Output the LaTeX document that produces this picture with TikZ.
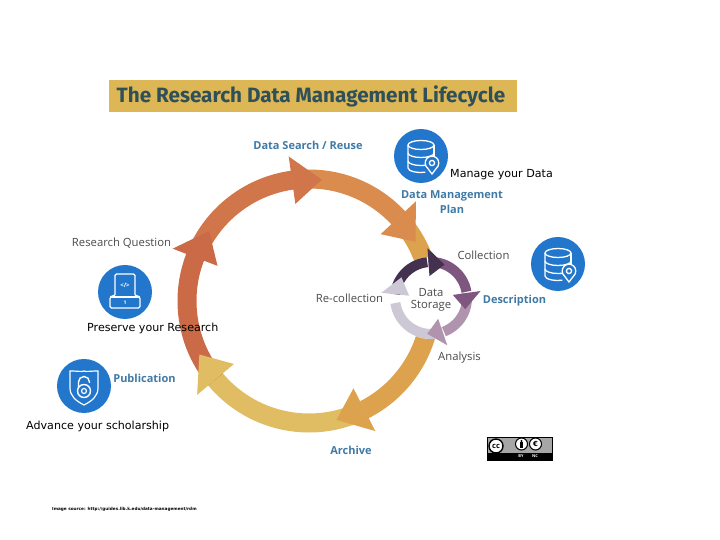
\documentclass[tikz,border=0pt]{standalone}
\usepackage{fontspec}
\usetikzlibrary{calc}
\setmainfont{Open Sans}
\newfontfamily\titlefont{Fira Sans}
\newfontfamily\notefont{DejaVu Sans}
\definecolor{bandgold}{HTML}{DDB655}
\definecolor{titleink}{HTML}{2F5058}
\definecolor{iconblue}{HTML}{2277CC}
\definecolor{linkblue}{HTML}{3F7AA6}
\definecolor{labelgray}{HTML}{4A4A4A}
\definecolor{ringrust}{HTML}{CB6A47}
\definecolor{ringcopper}{HTML}{D0764A}
\definecolor{ringorange}{HTML}{D98C4D}
\definecolor{ringamber}{HTML}{DDA24E}
\definecolor{ringsand}{HTML}{E0BC63}
\definecolor{loopdark}{HTML}{44304F}
\definecolor{loopmauve}{HTML}{7F5680}
\definecolor{looplilac}{HTML}{B094AE}
\definecolor{loopgray}{HTML}{CDC8D6}
\tikzset{
  iconcircle/.style={circle,fill=iconblue,minimum size=54pt,inner sep=0pt},
  steplabel/.style={font=\fontsize{11.3}{12.3}\selectfont,text=labelgray,inner sep=0pt,align=center},
  linklabel/.style={font=\fontsize{11}{15}\selectfont\bfseries,text=linkblue,inner sep=0pt,align=center},
  notelabel/.style={font=\notefont\fontsize{11.1}{12}\selectfont,text=black,inner sep=0pt},
  dbicon/.pic={
    \begin{scope}[draw=white,line width=1.3pt]
      \draw (-13,11) arc (180:-180:13 and 4.5);
      \draw (-13,11) -- (-13,-12) arc (180:290:13 and 4.5);
      \draw (13,11) -- (13,0);
      \draw (-13,3) arc (180:360:13 and 4.5);
      \draw (-13,-5) arc (180:300:13 and 4.5);
      \draw[fill=iconblue] (11,-18) -- (4.89,-9.98) arc (206:-26:6.8) -- cycle;
      \draw (11,-7) circle (2.6);
    \end{scope}
  },
}
\begin{document}
\begin{tikzpicture}[x=1pt,y=1pt]
  \useasboundingbox (0,0) rectangle (720,540);

  \node[fill=bandgold,minimum width=408pt,minimum height=32pt,inner sep=0pt] (titleband) at (313,444) {};
  \node[font=\titlefont\fontsize{20.7}{22}\selectfont\bfseries,text=titleink,inner sep=0pt] (title) at (311,444) {The Research Data Management Lifecycle};

  \coordinate (bigring) at (309,239);
  \foreach \start/\stop/\col in {159/96/ringcopper,98/41/ringorange,43/-65/ringamber,-63/-142/ringsand,220/157/ringrust}
    \draw[line width=19pt,\col] ($(bigring)+(\start:122)$) arc (\start:\stop:122);
  \foreach \tip/\base/\col in {84/98/ringcopper,29/43/ringorange,-77/-63/ringamber,206/220/ringsand,145/159/ringrust}
    \fill[\col] ($(bigring)+(\tip:122)$) -- ($(bigring)+(\base:146)$) -- ($(bigring)+(\base:98)$) -- cycle;

  \coordinate (smallring) at (431,242);
  \fill[white] (smallring) circle (41);
  \foreach \start/\stop/\col in {174/96/loopdark,94/10/loopmauve,8/-69/looplilac,-71/-172/loopgray}
    \draw[line width=10pt,\col] ($(smallring)+(\start:36)$) arc (\start:\stop:36);
  \foreach \tip/\base/\col in {68/94/loopdark,-18/8/loopmauve,-96/-71/looplilac,145/174/loopgray}
    \fill[\col] ($(smallring)+(\tip:36)$) -- ($(smallring)+(\base:50)$) -- ($(smallring)+(\base:22)$) -- cycle;

  \node[steplabel] (storage) at (431,240.5) {Data\\Storage};
  \node[linklabel] (search) at (308,395) {Data Search / Reuse};
  \node[linklabel] (plan) at (452,338) {Data Management\\Plan};
  \node[steplabel] (collection) at (483.5,285) {Collection};
  \node[steplabel] (question) at (121.5,296.5) {Research Question};
  \node[steplabel] (recollection) at (349.5,241.5) {Re-collection};
  \node[linklabel] (description) at (514.5,239) {Description};
  \node[steplabel] (analysis) at (459.5,182) {Analysis};
  \node[linklabel] (publication) at (144.5,162) {Publication};
  \node[linklabel] (archive) at (351,90) {Archive};

  \node[iconcircle] (dmpicon) at (421,384) {};
  \pic at (dmpicon) {dbicon};
  \node[iconcircle] (descicon) at (558,276) {};
  \pic at (descicon) {dbicon};

  \node[iconcircle] (codeicon) at (125,248) {};
  \draw[white,line width=1.2pt,rounded corners=1.5pt] (115,245) -- (115,266) -- (135,266) -- (135,245);
  \draw[white,line width=1.2pt,rounded corners=1.5pt] (115,245) -- (110,243) -- (110,232) -- (140,232) -- (140,243) -- (135,245);
  \draw[white,line width=1.2pt] (110,243) -- (140,243);
  \node[text=white,font=\fontsize{6}{6}\selectfont\bfseries,inner sep=0pt] (codemark) at (125,255) {</>};
  \node[text=white,font=\fontsize{5}{5}\selectfont\bfseries,inner sep=0pt] (drawermark) at (125,237) {1};

  \node[iconcircle] (openicon) at (84,154) {};
  \draw[white,line width=1.2pt] (70,169) .. controls (78,169) and (82,168) .. (84,169) .. controls (86,168) and (90,169) .. (98,169) -- (98,152) .. controls (98,144) and (92,139) .. (84,135) .. controls (76,139) and (70,144) .. (70,152) -- cycle;
  \draw[white,line width=1.4pt] (84,149) circle (6.5);
  \draw[white,line width=1.2pt] (84,149) circle (2.5);
  \draw[white,line width=1.4pt] (78.5,153) -- (78.5,158) arc (180:0:5.5) -- (89.5,157);

  \node[notelabel,anchor=west] (managenote) at (450,365.5) {Manage your Data};
  \node[notelabel,anchor=west] (preservenote) at (87,211.5) {Preserve your Research};
  \node[notelabel,anchor=west] (advancenote) at (26,113.5) {Advance your scholarship};

  \node[fill=black!35,draw=black,line width=0.6pt,minimum width=65pt,minimum height=23pt,inner sep=0pt] (ccbadge) at (520,91.5) {};
  \fill[black] (487.5,80) rectangle (552.5,87);
  \node[circle,fill=white,draw=black,line width=1.4pt,minimum size=14pt,inner sep=0pt,font=\fontsize{7.5}{8}\selectfont\bfseries] (ccmark) at (496,94) {cc};
  \node[circle,fill=white,draw=black,line width=1pt,minimum size=12pt,inner sep=0pt] (bymark) at (521.5,96) {};
  \fill[black] (521.5,99) circle (1.2);
  \fill[black] (519.8,91.5) rectangle (523.2,97.5);
  \node[circle,fill=white,draw=black,line width=1pt,minimum size=12pt,inner sep=0pt,font=\notefont\fontsize{7}{7}\selectfont\bfseries] (ncmark) at (535.5,96) {€};
  \node[text=white,font=\fontsize{4}{4}\selectfont\bfseries,inner sep=0pt] (bytext) at (521,84) {BY};
  \node[text=white,font=\fontsize{4}{4}\selectfont\bfseries,inner sep=0pt] (nctext) at (535,84) {NC};

  \node[font=\notefont\fontsize{4.2}{4}\selectfont\bfseries,text=black,inner sep=0pt,anchor=west] (sourcenote) at (52,31) {Image source: http://guides.lib.k.edu/data-management/rdm};
\end{tikzpicture}
\end{document}
